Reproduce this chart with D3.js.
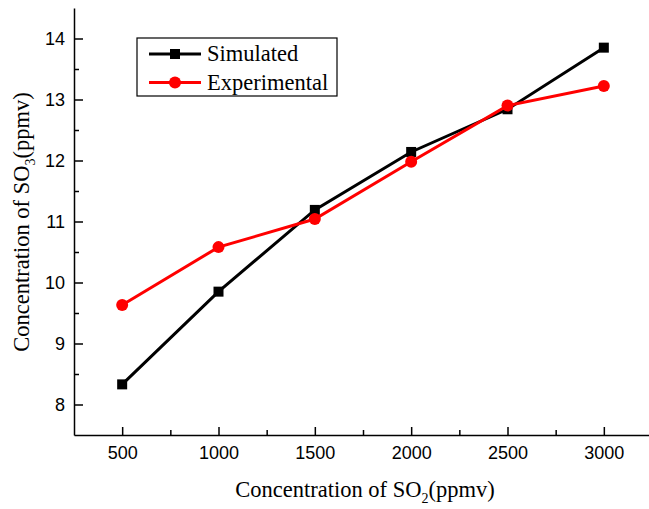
<!DOCTYPE html>
<html>
<head>
<meta charset="utf-8">
<script src="https://cdnjs.cloudflare.com/ajax/libs/d3/7.8.5/d3.min.js"></script>
<style>
  body { margin: 0; background: #fff; }
  svg { display: block; }
</style>
</head>
<body>
<svg id="chart" width="649" height="509"></svg>
<script>
const so2 = [500, 1000, 1500, 2000, 2500, 3000]
const simulated = [8.33, 9.85, 11.19, 12.14, 12.84, 13.85]
const experimental = [9.63, 10.58, 11.04, 11.98, 12.9, 13.22]
const xTicks = [500, 1000, 1500, 2000, 2500, 3000]
const yTicks = [8, 9, 10, 11, 12, 13, 14]

const width = 649
const height = 509
const margin = { left: 74, top: 8, right: -3, bottom: 74 }

const svg = d3.select('#chart')

const xScale = d3.scaleLinear()
  .domain([250, 3250])
  .range([margin.left, width - margin.right])

const yScale = d3.scaleLinear()
  .domain([7.5, 14.5])
  .range([height - margin.bottom, margin.top])

const axisFont = 'font-family: "Liberation Sans", Arial, sans-serif; font-size: 18px;'

// minor ticks first, then the labelled ones on top
svg.append('g')
  .attr('transform', `translate(0, ${yScale(7.5)})`)
  .call(d3.axisTop(xScale).tickValues(d3.range(750, 3000, 500)).tickSize(5).tickFormat(''))
  .call(g => g.select('.domain').remove())
  .selectAll('line').attr('stroke-width', 1.5)

const xAxis = svg.append('g')
  .attr('transform', `translate(0, ${yScale(7.5)})`)
  .attr('style', axisFont)
  .call(d3.axisBottom(xScale).tickValues(xTicks).tickFormat(d3.format('d'))
    .tickSizeInner(-8).tickSizeOuter(0).tickPadding(11))
xAxis.select('.domain').attr('stroke-width', 1.5)
xAxis.selectAll('line').attr('stroke-width', 1.5)
xAxis.selectAll('text').attr('fill', '#000').style('font-size', '18px')

svg.append('g')
  .attr('transform', `translate(${xScale(250)}, 0)`)
  .call(d3.axisRight(yScale).tickValues(d3.range(8.5, 14.5, 1)).tickSize(5).tickFormat(''))
  .call(g => g.select('.domain').remove())
  .selectAll('line').attr('stroke-width', 1.5)

const yAxis = svg.append('g')
  .attr('transform', `translate(${xScale(250)}, 0)`)
  .attr('style', axisFont)
  .call(d3.axisLeft(yScale).tickValues(yTicks).tickFormat(d3.format('d'))
    .tickSizeInner(-9).tickSizeOuter(0).tickPadding(9))
yAxis.select('.domain').attr('stroke-width', 1.5)
yAxis.selectAll('line').attr('stroke-width', 1.5)
yAxis.selectAll('text').attr('fill', '#000').style('font-size', '18px')

// series
const series = [
  { name: 'Simulated', values: simulated, color: '#000', shape: 'square' },
  { name: 'Experimental', values: experimental, color: '#ff0000', shape: 'circle' }
]

const line = d3.line()
  .x((d, i) => xScale(so2[i]))
  .y(d => yScale(d))

series.forEach(s => {
  svg.append('path')
    .attr('d', line(s.values))
    .attr('fill', 'none')
    .attr('stroke', s.color)
    .attr('stroke-width', 3)

  const pts = s.values.map((v, i) => ({ x: xScale(so2[i]), y: yScale(v) }))
  if (s.shape === 'square') {
    svg.selectAll(null).data(pts).join('rect')
      .attr('x', d => d.x - 5).attr('y', d => d.y - 5)
      .attr('width', 10).attr('height', 10)
      .attr('fill', s.color)
  } else {
    svg.selectAll(null).data(pts).join('circle')
      .attr('cx', d => d.x).attr('cy', d => d.y)
      .attr('r', 6)
      .attr('fill', s.color)
  }
})

// legend
const legend = svg.append('g').attr('transform', 'translate(137, 38)')
legend.append('rect')
  .attr('width', 200).attr('height', 58)
  .attr('fill', '#fff').attr('stroke', '#000').attr('stroke-width', 1.2)

series.forEach((s, i) => {
  const ly = 16 + i * 28.5
  legend.append('line')
    .attr('x1', 12).attr('x2', 64).attr('y1', ly).attr('y2', ly)
    .attr('stroke', s.color).attr('stroke-width', 3)
  if (s.shape === 'square') {
    legend.append('rect').attr('x', 33).attr('y', ly - 5).attr('width', 10).attr('height', 10).attr('fill', s.color)
  } else {
    legend.append('circle').attr('cx', 38).attr('cy', ly).attr('r', 6).attr('fill', s.color)
  }
  legend.append('text')
    .attr('x', 70).attr('y', ly + 7)
    .attr('style', 'font-family: "Liberation Serif", "Times New Roman", serif; font-size: 22.5px;')
    .text(s.name)
})

// axis titles
const titleFont = 'font-family: "Liberation Serif", "Times New Roman", serif; font-size: 22.5px;'

const xt = svg.append('text')
  .attr('x', 365).attr('y', 497)
  .attr('text-anchor', 'middle')
  .attr('style', titleFont)
xt.append('tspan').text('Concentration of SO')
xt.append('tspan').attr('dy', 6).style('font-size', '14px').text('2')
xt.append('tspan').attr('dy', -6).text('(ppmv)')

const yt = svg.append('text')
  .attr('transform', 'translate(29, 222) rotate(-90)')
  .attr('text-anchor', 'middle')
  .attr('style', titleFont)
yt.append('tspan').text('Concentration of SO')
yt.append('tspan').attr('dy', 6).style('font-size', '14px').text('3')
yt.append('tspan').attr('dy', -6).text('(ppmv)')
</script>
</body>
</html>
